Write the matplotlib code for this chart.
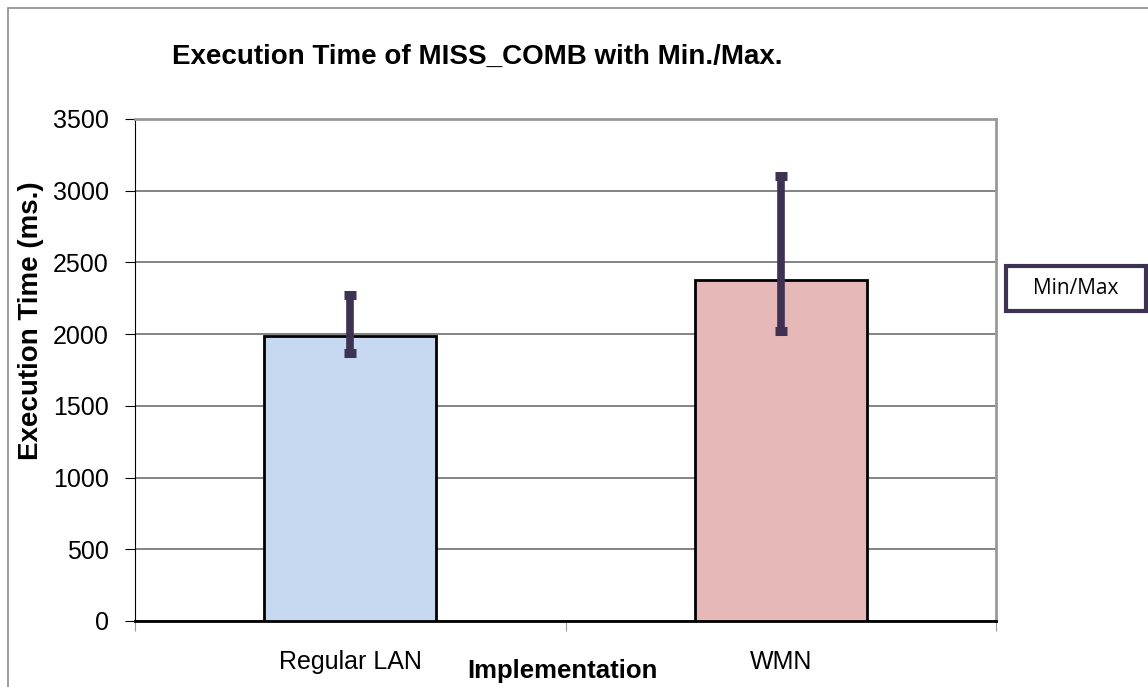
import matplotlib.pyplot as plt
from matplotlib.patches import Rectangle
import numpy as np

categories = ['Regular LAN', 'WMN']
avg_time = [1985, 2380]
min_time = [1870, 2020]
max_time = [2270, 3100]
bar_colors = ['#c6d9f1', '#e6b9b8']

plt.rcParams['font.family'] = ['Liberation Sans', 'DejaVu Sans']

W, H = 1148, 687
fig = plt.figure(figsize=(W/100, H/100), dpi=100)
ax = fig.add_axes([135/W, 1-621/H, (996-135)/W, (621-119)/H])

x = np.arange(len(categories))
ax.bar(x, avg_time, width=0.4, color=bar_colors, edgecolor='black', linewidth=2, zorder=3)

# min/max whiskers around the average
err = [np.array(avg_time) - np.array(min_time), np.array(max_time) - np.array(avg_time)]
ax.errorbar(x, avg_time, yerr=err, fmt='none', ecolor='#3f3151', elinewidth=5.5,
            capsize=4.5, capthick=6.5, zorder=4)

ax.set_xlim(-0.5, 1.5)
ax.set_ylim(0, 3500)
ax.set_yticks(np.arange(0, 3501, 500))
ax.yaxis.grid(True, color='#6e6e6e', linewidth=1.2, zorder=0)
ax.set_axisbelow(True)

ax.set_xticks([-0.5, 0.5, 1.5], minor=False)
ax.set_xticklabels([])
ax.set_xticks(x, minor=True)
ax.set_xticklabels(categories, minor=True, fontsize=18)
ax.tick_params(axis='x', which='minor', length=0, pad=21)
ax.tick_params(axis='x', which='major', length=7, color='#999999', direction='out')
ax.tick_params(axis='y', length=7, direction='out', labelsize=18, pad=12)

for s in ['top', 'right']:
    ax.spines[s].set_color('#999999')
    ax.spines[s].set_linewidth(2)
ax.spines['left'].set_color('black')
ax.spines['bottom'].set_color('black')
ax.spines['bottom'].set_linewidth(2)

ax.set_ylabel('Execution Time (ms.)', fontsize=20, fontweight='bold', va='center')
ax.yaxis.set_label_coords((31-135)/861, (621-321)/502)
ax.set_xlabel('Implementation', fontsize=18.5, fontweight='bold', va='center')
ax.xaxis.set_label_coords((562-135)/861, -(671-621)/502)

fig.text(477/W, 1-57/H, 'Execution Time of MISS_COMB with Min./Max.',
         fontsize=20, fontweight='bold', ha='center', va='center')

# legend box
fig.patches.append(Rectangle((1006/W, 1-311/H), 140/W, 45/H, transform=fig.transFigure,
                             facecolor='white', edgecolor='#3f3151', linewidth=3))
fig.text(1076/W, 1-289/H, 'Min/Max', fontsize=15, family=['Open Sans', 'DejaVu Sans'],
         ha='center', va='center')

# outer chart border
fig.patches.append(Rectangle((8/W, -0.1), 1.2, 1.1 - 8/H, transform=fig.transFigure,
                             fill=False, edgecolor='#8c8c8c', linewidth=1.2))

fig.savefig('out.png', dpi=100)
